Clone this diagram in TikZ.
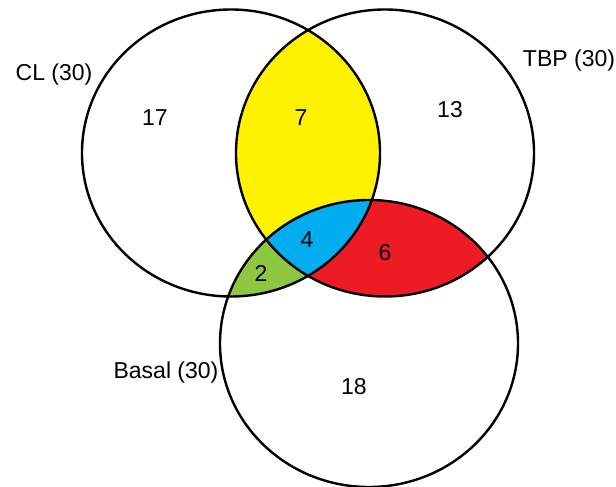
\documentclass[tikz,border=0pt]{standalone}
\usepackage{fontspec}
\setmainfont{Liberation Sans}
\definecolor{lensyellow}{RGB}{255,242,0}
\definecolor{lensred}{RGB}{237,28,36}
\definecolor{lensgreen}{RGB}{141,198,63}
\definecolor{lensblue}{RGB}{0,174,239}
\begin{document}
\begin{tikzpicture}[x=1pt,y=-1pt]
\tikzstyle{every node}+=[inner sep=0pt,font=\fontsize{23}{27}\selectfont]
\useasboundingbox (0,0) rectangle (616,487);
\def\setCL{(231,153) ellipse [x radius=149, y radius=143.5]}
\def\setTBP{(385,153) ellipse [x radius=149, y radius=143.5]}
\def\setBasal{(369,343.5) ellipse [x radius=149, y radius=143.5]}
% overlaps
\begin{scope}
\clip \setCL;
\fill [lensyellow] \setTBP;
\fill [lensgreen] \setBasal;
\end{scope}
\begin{scope}
\clip \setTBP;
\fill [lensred] \setBasal;
\end{scope}
\begin{scope}
\clip \setCL;
\clip \setTBP;
\fill [lensblue] \setBasal;
\end{scope}
% outlines
\draw [black,line width=2.4pt] \setCL;
\draw [black,line width=2.4pt] \setTBP;
\draw [black,line width=2.4pt] \setBasal;
% labels
\node (cl) at (54,75) {CL (30)};
\node (tbp) at (569,61) {TBP (30)};
\node (basal) at (166,373) {Basal (30)};
\node (n17) at (155,118) {17};
\node (n7) at (301,118) {7};
\node (n13) at (450,110) {13};
\node (n4) at (307,240) {4};
\node (n6) at (385,253) {6};
\node (n2) at (261,273) {2};
\node (n18) at (354,387) {18};
\end{tikzpicture}
\end{document}
